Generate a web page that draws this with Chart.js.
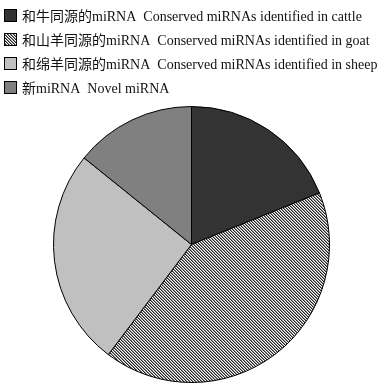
<!DOCTYPE html>
<html>
<head>
<meta charset="utf-8">
<script src="https://cdn.jsdelivr.net/npm/chart.js@4"></script>
<style>
  html, body { margin: 0; padding: 0; background: #fff; }
  #wrap { width: 380px; height: 391px; }
</style>
</head>
<body>
<div id="wrap"><canvas id="pie"></canvas></div>
<script>
// slice labels (Chinese + English) and their shares
const labels = [
  '和牛同源的miRNA  Conserved miRNAs identified in cattle',
  '和山羊同源的miRNA  Conserved miRNAs identified in goat',
  '和绵羊同源的miRNA  Conserved miRNAs identified in sheep',
  '新miRNA  Novel miRNA'
];
const shares = [18.9, 41.4, 25.5, 14.2];

// fine hatched fill for the goat slice
function makeHatch() {
  const c = document.createElement('canvas');
  c.width = 3; c.height = 3;
  const g = c.getContext('2d');
  const shade = ['#262626', '#8c8c8c', '#ffffff'];
  for (let y = 0; y < 3; y++) {
    for (let x = 0; x < 3; x++) {
      g.fillStyle = shade[((x - y) % 3 + 3) % 3];
      g.fillRect(x, y, 1, 1);
    }
  }
  return g.createPattern(c, 'repeat');
}

const fills = ['#333333', makeHatch(), '#c0c0c0', '#808080'];

// legend drawn by hand so the rows sit where the reference has them
const topLegend = {
  id: 'topLegend',
  afterDraw(chart) {
    const ctx = chart.ctx;
    const rows = [16, 40, 64, 88];
    ctx.save();
    ctx.font = "14px 'Liberation Serif', 'Noto Sans CJK SC'";
    ctx.textBaseline = 'middle';
    labels.forEach((t, i) => {
      const y = rows[i];
      ctx.fillStyle = fills[i];
      ctx.fillRect(4.5, y - 6.5, 12, 12);
      ctx.strokeStyle = '#000';
      ctx.lineWidth = 1;
      ctx.strokeRect(4.5, y - 6.5, 12, 12);
      ctx.fillStyle = '#111';
      ctx.fillText(t, 22, y + 1);
    });
    ctx.restore();
  }
};

new Chart(document.getElementById('pie'), {
  type: 'pie',
  data: {
    labels: labels,
    datasets: [{
      data: shares,
      backgroundColor: fills,
      borderColor: '#000',
      borderWidth: 1
    }]
  },
  options: {
    responsive: true,
    maintainAspectRatio: false,
    animation: false,
    layout: { padding: { top: 106, bottom: 8, left: 3, right: 0 } },
    plugins: {
      legend: { display: false },
      tooltip: { enabled: false }
    }
  },
  plugins: [topLegend]
});
</script>
</body>
</html>
